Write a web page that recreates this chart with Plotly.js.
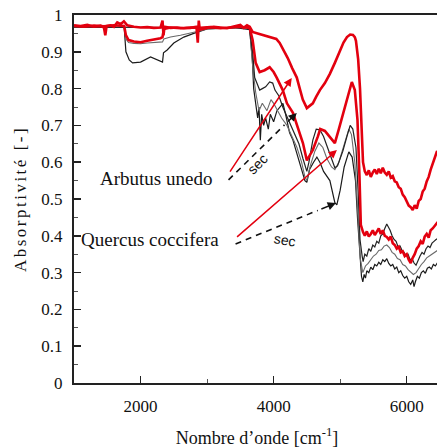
<!DOCTYPE html>
<html>
<head>
<meta charset="utf-8">
<script src="https://cdn.plot.ly/plotly-3.0.1.min.js"></script>
<style>
  html, body { margin: 0; padding: 0; overflow: hidden; background: #fff; }
  #chart { width: 442px; height: 448px; }
  #chart .ytitle { letter-spacing: 2.5px; }
</style>
</head>
<body>
<div id="chart"></div>
<script>
// Spectres d'absorptivité — feuilles fraîches (rouge) et sèches (noir / gris)

// Arbutus unedo, feuille fraîche
const freshArbutusX = [1000,1100,1200,1300,1400,1450,1470,1490,1550,1600,1650,1700,1750,1800,1900,2000,2100,2200,2300,2330,2345,2360,2450,2550,2650,2750,2840,2860,2875,2890,3000,3100,3200,3300,3400,3500,3550,3600,3640,3684,3760,3835,3910,3986,4040,4091,4150,4212,4280,4348,4400,4438,4499,4540,4589,4640,4695,4770,4845,4920,4996,5050,5102,5150,5192,5220,5237,5270,5298,5320,5343,5370,5400,5430,5460,5490,5520,5550,5580,5610,5640,5670,5700,5730,5760,5790,5820,5850,5880,5910,5940,5970,6000,6030,6060,6090,6120,6150,6180,6210,6240,6270,6300,6330,6360,6390,6420,6455,6500];
const freshArbutusY = [0.972,0.970,0.973,0.968,0.971,0.966,0.945,0.970,0.972,0.968,0.980,0.975,0.983,0.972,0.968,0.966,0.967,0.965,0.966,0.985,0.945,0.968,0.965,0.966,0.964,0.965,0.968,0.925,0.985,0.960,0.965,0.968,0.966,0.964,0.969,0.973,0.965,0.972,0.968,0.954,0.950,0.946,0.944,0.940,0.935,0.924,0.905,0.883,0.855,0.830,0.795,0.770,0.747,0.752,0.760,0.778,0.796,0.815,0.840,0.870,0.905,0.925,0.940,0.947,0.946,0.940,0.930,0.880,0.800,0.680,0.600,0.575,0.565,0.578,0.560,0.572,0.580,0.568,0.582,0.570,0.585,0.572,0.566,0.575,0.558,0.562,0.548,0.545,0.532,0.528,0.512,0.505,0.495,0.482,0.478,0.470,0.483,0.474,0.495,0.500,0.520,0.528,0.548,0.560,0.580,0.595,0.610,0.630,0.620];

// Quercus coccifera, feuille fraîche
const freshQuercusX = [1000,1150,1300,1450,1600,1754,1780,1820,1900,2000,2100,2200,2300,2330,2350,2450,2600,2750,2900,3050,3200,3350,3500,3640,3684,3730,3790,3865,3940,4000,4046,4137,4200,4290,4380,4440,4499,4530,4589,4665,4700,4770,4845,4920,4980,5040,5102,5150,5175,5220,5260,5290,5310,5343,5370,5400,5430,5460,5490,5520,5550,5580,5610,5640,5670,5700,5730,5760,5790,5820,5850,5880,5910,5940,5970,6000,6030,6060,6090,6120,6150,6180,6210,6240,6270,6300,6330,6360,6390,6420,6455,6500];
const freshQuercusY = [0.970,0.968,0.971,0.969,0.972,0.970,0.945,0.932,0.928,0.926,0.930,0.933,0.937,0.940,0.962,0.966,0.964,0.966,0.965,0.967,0.964,0.966,0.968,0.965,0.932,0.870,0.845,0.850,0.858,0.845,0.830,0.796,0.760,0.734,0.687,0.652,0.605,0.615,0.633,0.670,0.690,0.685,0.670,0.652,0.690,0.730,0.775,0.800,0.818,0.796,0.715,0.560,0.430,0.410,0.400,0.412,0.398,0.405,0.415,0.402,0.412,0.420,0.405,0.415,0.400,0.397,0.390,0.398,0.380,0.375,0.365,0.370,0.355,0.358,0.345,0.350,0.335,0.326,0.340,0.350,0.365,0.372,0.385,0.378,0.398,0.405,0.395,0.415,0.420,0.428,0.435,0.430];

// Feuille sèche, courbe haute
const dryUpperX = [1000,1400,1800,2200,2600,3000,3400,3640,3684,3715,3760,3790,3830,3880,3940,3986,4020,4080,4137,4200,4290,4380,4440,4499,4530,4589,4640,4695,4750,4845,4920,4960,5040,5102,5150,5190,5237,5270,5298,5330,5345,5370,5400,5430,5460,5490,5520,5550,5580,5610,5640,5670,5700,5720,5750,5780,5810,5840,5870,5900,5930,5960,5990,6020,6050,6080,6110,6140,6170,6200,6230,6260,6290,6320,6350,6380,6410,6440,6500];
const dryUpperY = [0.968,0.967,0.966,0.965,0.966,0.965,0.966,0.960,0.900,0.830,0.810,0.796,0.800,0.805,0.818,0.815,0.796,0.780,0.750,0.725,0.690,0.650,0.610,0.575,0.600,0.660,0.690,0.688,0.670,0.625,0.585,0.590,0.630,0.670,0.700,0.690,0.640,0.520,0.390,0.345,0.330,0.350,0.345,0.365,0.358,0.375,0.370,0.385,0.380,0.400,0.405,0.420,0.432,0.425,0.415,0.400,0.390,0.385,0.370,0.372,0.360,0.355,0.345,0.350,0.335,0.338,0.326,0.320,0.335,0.345,0.355,0.350,0.365,0.372,0.368,0.380,0.385,0.390,0.395];

// Feuille sèche, courbe intermédiaire (grise)
const dryMiddleX = [1000,1400,1754,1780,1820,1900,2000,2100,2200,2330,2350,2450,2600,2750,2850,3000,3300,3600,3640,3690,3730,3780,3830,3900,3960,4000,4060,4120,4200,4280,4350,4420,4470,4499,4550,4620,4680,4740,4800,4870,4920,4980,5050,5100,5130,5170,5220,5260,5300,5340,5380,5420,5460,5500,5540,5580,5620,5660,5700,5740,5780,5820,5860,5900,5940,5980,6020,6060,6100,6140,6180,6220,6260,6300,6340,6380,6420,6460,6500];
const dryMiddleY = [0.967,0.966,0.966,0.935,0.925,0.923,0.922,0.924,0.925,0.927,0.935,0.940,0.945,0.950,0.955,0.962,0.965,0.966,0.960,0.850,0.790,0.740,0.760,0.740,0.770,0.760,0.740,0.720,0.700,0.670,0.640,0.600,0.560,0.550,0.590,0.630,0.652,0.640,0.610,0.587,0.580,0.600,0.640,0.670,0.690,0.675,0.600,0.480,0.340,0.300,0.318,0.325,0.335,0.345,0.350,0.360,0.362,0.372,0.375,0.368,0.355,0.350,0.338,0.335,0.322,0.318,0.308,0.300,0.295,0.300,0.312,0.322,0.330,0.340,0.345,0.350,0.355,0.360,0.360];

// Feuille sèche, courbe basse
const dryLowerX = [1000,1400,1754,1780,1830,1880,2000,2150,2270,2330,2345,2400,2500,2650,2800,2900,3000,3300,3600,3640,3680,3700,3730,3760,3780,3800,3820,3850,3880,3920,3950,4000,4050,4100,4140,4180,4240,4290,4350,4420,4470,4499,4540,4600,4650,4700,4750,4845,4920,4950,5000,5060,5130,5180,5230,5260,5300,5320,5340,5360,5380,5400,5430,5460,5490,5520,5550,5580,5610,5640,5670,5700,5730,5760,5790,5820,5850,5880,5910,5940,5970,6000,6030,6060,6090,6110,6130,6160,6190,6220,6250,6280,6310,6340,6370,6400,6430,6460,6500];
const dryLowerY = [0.966,0.967,0.966,0.900,0.878,0.870,0.872,0.886,0.878,0.872,0.897,0.905,0.924,0.940,0.950,0.957,0.962,0.965,0.966,0.960,0.880,0.800,0.760,0.720,0.750,0.660,0.730,0.700,0.720,0.690,0.730,0.710,0.740,0.750,0.760,0.730,0.680,0.660,0.625,0.580,0.550,0.545,0.580,0.600,0.614,0.598,0.575,0.550,0.490,0.484,0.524,0.587,0.628,0.614,0.550,0.450,0.330,0.290,0.275,0.295,0.285,0.305,0.300,0.315,0.308,0.322,0.318,0.328,0.322,0.335,0.330,0.338,0.325,0.318,0.322,0.310,0.315,0.300,0.305,0.292,0.285,0.290,0.275,0.268,0.280,0.262,0.275,0.290,0.285,0.300,0.305,0.298,0.312,0.315,0.310,0.322,0.318,0.326,0.330];

const xTickVals = [2000, 4000, 6000];
const yTickVals = [0, 0.1, 0.2, 0.3, 0.4, 0.5, 0.6, 0.7, 0.8, 0.9, 1];

const RED = '#e3000f';
const serif = "'Liberation Serif', 'Times New Roman', Times, serif";
const sans = "'Liberation Sans', Arial, sans-serif";

const traces = [
  { x: dryLowerX, y: dryLowerY, mode: 'lines', line: { color: '#1a1a1a', width: 1.2 } },
  { x: dryMiddleX, y: dryMiddleY, mode: 'lines', line: { color: '#6a6a6a', width: 1.1 } },
  { x: dryUpperX, y: dryUpperY, mode: 'lines', line: { color: '#222222', width: 1.2 } },
  { x: freshQuercusX, y: freshQuercusY, mode: 'lines', line: { color: RED, width: 2.6 } },
  { x: freshArbutusX, y: freshArbutusY, mode: 'lines', line: { color: RED, width: 2.6 } }
];

// flèches : rouge = frais, tirets noirs = sec
const arbRed = { tail: [3292, 0.560], tip: [4272, 0.829] };
const arbDry = { tail: [3322, 0.552], tip: [4348, 0.734] };
const queRed = { tail: [3398, 0.389], tip: [4951, 0.633] };
const queDry = { tail: [3428, 0.378], tip: [4936, 0.489] };

function headStart(a) {
  return [a.tail[0] + 0.82 * (a.tip[0] - a.tail[0]), a.tail[1] + 0.82 * (a.tip[1] - a.tail[1])];
}

const shapes = [arbDry, queDry].map(a => ({
  type: 'line', xref: 'x', yref: 'y',
  x0: a.tail[0], y0: a.tail[1], x1: headStart(a)[0], y1: headStart(a)[1],
  line: { color: '#111', width: 1.6, dash: '6px,5px' }
}));

function arrow(a, color, fromTail) {
  const s = fromTail ? a.tail : headStart(a);
  return {
    x: a.tip[0], y: a.tip[1], ax: s[0], ay: s[1], axref: 'x', ayref: 'y',
    xref: 'x', yref: 'y', text: ' ', showarrow: true,
    arrowhead: 2, arrowsize: 1.1, arrowwidth: 1.5, arrowcolor: color
  };
}

const annotations = [
  arrow(arbRed, RED, true),
  arrow(queRed, RED, true),
  arrow(arbDry, '#111', false),
  arrow(queDry, '#111', false),
  { x: 3111, y: 0.557, xref: 'x', yref: 'y', xanchor: 'right', yanchor: 'middle',
    text: 'Arbutus unedo', showarrow: false, font: { family: serif, size: 19, color: '#111' } },
  { x: 3202, y: 0.389, xref: 'x', yref: 'y', xanchor: 'right', yanchor: 'middle',
    text: 'Quercus coccifera', showarrow: false, font: { family: serif, size: 19, color: '#111' } },
  { x: 3760, y: 0.594, xref: 'x', yref: 'y', text: 'sec', showarrow: false, textangle: -45,
    font: { family: sans, size: 14, color: '#111' } },
  { x: 4170, y: 0.389, xref: 'x', yref: 'y', text: 'sec', showarrow: false, textangle: 10,
    font: { family: sans, size: 14, color: '#111' } }
];

const layout = {
  width: 442, height: 448,
  margin: { l: 74, r: 2, t: 15, b: 65 },
  paper_bgcolor: '#fff', plot_bgcolor: '#fff',
  showlegend: false, hovermode: false,
  font: { family: serif, size: 15, color: '#111' },
  xaxis: {
    range: [1000, 6500], tickvals: xTickVals, ticks: 'inside', ticklen: 7, tickwidth: 1.5,
    tickcolor: '#222', showgrid: false, zeroline: false,
    showline: true, linecolor: '#222', linewidth: 2, mirror: true,
    tickfont: { family: serif, size: 17, color: '#111' }, ticklabelstandoff: 7,
    minor: { dtick: 1000, tick0: 1000, ticks: 'inside', ticklen: 4, tickcolor: '#555', tickwidth: 1 },
    title: { text: 'Nombre d’onde [cm<sup>-1</sup>]', font: { family: serif, size: 18, color: '#111' }, standoff: 16 }
  },
  yaxis: {
    range: [0, 1], tickvals: yTickVals, ticks: 'inside', ticklen: 7, tickwidth: 1.5,
    tickcolor: '#222', showgrid: false, zeroline: false,
    showline: true, linecolor: '#222', linewidth: 2, mirror: true,
    tickfont: { family: serif, size: 17, color: '#111' }, ticklabelstandoff: 6,
    minor: { dtick: 0.05, tick0: 0, ticks: 'inside', ticklen: 4, tickcolor: '#555', tickwidth: 1 },
    title: { text: 'Absorptivité [-]', font: { family: serif, size: 17, color: '#111' }, standoff: 10 }
  },
  shapes: shapes,
  annotations: annotations
};

Plotly.newPlot('chart', traces, layout, { displayModeBar: false, staticPlot: true });
</script>
</body>
</html>
